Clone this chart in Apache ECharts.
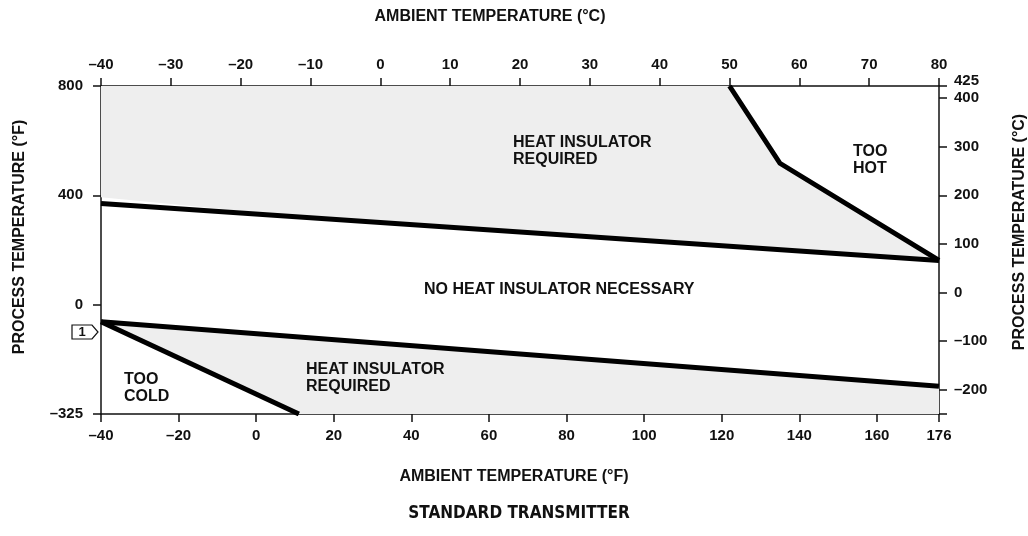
<!DOCTYPE html>
<html><head><meta charset="utf-8">
<script src="https://cdn.jsdelivr.net/npm/echarts@6/dist/echarts.min.js"></script>
<style>html,body{margin:0;padding:0;background:#fff}#c{width:1028px;height:536px}</style>
</head><body><div id="c"></div>
<script>
// ---- data (x: ambient °F, y: process °C on right axis) ----
const ambientFTicks = [-40, -20, 0, 20, 40, 60, 80, 100, 120, 140, 160, 176];
const ambientFRange = [-40, 176];
const ambientCRange = [-40, 80];
const processFLabels = ['–325', '0', '400', '800'];
const processCTicks = [-250, -200, -100, 0, 100, 200, 300, 400, 425];
const processCLabels = [-200, -100, 0, 100, 200, 300, 400, 425];
const processCRange = [-250, 425];

const heatLimitLine = [[-40, 183], [176, 66]];
const tooHotLine = [[122, 425], [135, 266], [176, 66]];
const coldLimitLine = [[-40, -60], [176, -193]];
const tooColdLine = [[-40, -60], [11, -250]];

const upperRegion = [[-40, 425], [122, 425], [135, 266], [176, 66], [20, 150], [-40, 196]];
const lowerRegion = [[-40, -60], [176, -193], [176, -250], [11, -250]];
const regions = [upperRegion, lowerRegion];

const FONT = "'Liberation Sans', Arial, Helvetica, sans-serif";
const INK = '#111';
const dash = v => String(v).replace('-', '–');

const chart = echarts.init(document.getElementById('c'), null, {renderer: 'canvas'});
const axisLine = {show: true, onZero: false, lineStyle: {color: INK, width: 1.5}};
const tick = {show: true, inside: false, length: 8, lineStyle: {color: INK, width: 1.5}};
const lbl = {color: INK, fontFamily: FONT, fontWeight: 'bold', fontSize: 15};

function lineSeries(data) {
  return {
    type: 'line', data: data, xAxisIndex: 0, yAxisIndex: 1,
    symbol: 'none', silent: true, z: 5,
    lineStyle: {color: '#000', width: 5, join: 'miter', cap: 'butt'},
    animation: false
  };
}

function txt(text, x, y, opts) {
  return Object.assign({
    type: 'text', x: x, y: y, silent: true, z: 100,
    style: Object.assign({
      text: text, font: 'bold 16px ' + FONT, fill: INK,
      align: 'left', verticalAlign: 'top', lineHeight: 17
    }, (opts && opts.style) || {})
  }, (opts && opts.el) || {});
}

chart.setOption({
  animation: false,
  grid: {left: 101, right: 89, top: 86, bottom: 122, containLabel: false},
  xAxis: [
    {type: 'value', position: 'bottom', min: ambientFRange[0], max: ambientFRange[1],
     axisLine: axisLine, splitLine: {show: false},
     axisTick: Object.assign({}, tick, {customValues: ambientFTicks}),
     axisLabel: Object.assign({}, lbl, {customValues: ambientFTicks, margin: 14, formatter: dash})},
    {type: 'value', position: 'top', min: ambientCRange[0], max: ambientCRange[1], interval: 10,
     axisLine: axisLine, splitLine: {show: false},
     axisTick: tick,
     axisLabel: Object.assign({}, lbl, {margin: 14, formatter: dash})}
  ],
  yAxis: [
    {type: 'category', position: 'left', data: processFLabels, boundaryGap: false,
     axisLine: axisLine, splitLine: {show: false},
     axisTick: Object.assign({}, tick, {interval: 0}),
     axisLabel: Object.assign({}, lbl, {margin: 18, interval: 0})},
    {type: 'value', position: 'right', min: processCRange[0], max: processCRange[1],
     axisLine: axisLine, splitLine: {show: false},
     axisTick: Object.assign({}, tick, {customValues: processCTicks}),
     axisLabel: Object.assign({}, lbl, {
       customValues: processCLabels, margin: 15,
       formatter: v => v === 425 ? '{up|425}' : dash(v),
       rich: {up: {fontFamily: FONT, fontWeight: 'bold', fontSize: 15, color: INK, padding: [0, 0, 10, 0]}}
     })}
  ],
  series: [
    {type: 'custom', xAxisIndex: 0, yAxisIndex: 1, silent: true, z: 1,
     data: regions.map((r, i) => i),
     renderItem: (params, api) => ({
       type: 'polygon',
       shape: {points: regions[params.dataIndex].map(p => api.coord(p))},
       style: {fill: '#eeeeee', stroke: null}
     })},
    lineSeries(heatLimitLine),
    lineSeries(tooHotLine),
    lineSeries(coldLimitLine),
    lineSeries(tooColdLine)
  ],
  graphic: [
    txt('AMBIENT TEMPERATURE (°C)', 490, 17, {style: {align: 'center', verticalAlign: 'middle'}}),
    txt('AMBIENT TEMPERATURE (°F)', 514, 477, {style: {align: 'center', verticalAlign: 'middle'}}),
    txt('STANDARD TRANSMITTER', 519, 514, {style: {align: 'center', verticalAlign: 'middle', font: "bold 17px 'Liberation Sans Narrow', 'DejaVu Sans Condensed', " + FONT}}),
    txt('PROCESS TEMPERATURE (°F)', 20, 237, {style: {align: 'center', verticalAlign: 'middle'}, el: {rotation: Math.PI / 2}}),
    txt('PROCESS TEMPERATURE (°C)', 1020, 232, {style: {align: 'center', verticalAlign: 'middle'}, el: {rotation: Math.PI / 2}}),
    txt('HEAT INSULATOR\nREQUIRED', 513, 134),
    txt('TOO\nHOT', 853, 143),
    txt('NO HEAT INSULATOR NECESSARY', 424, 281),
    txt('HEAT INSULATOR\nREQUIRED', 306, 361),
    txt('TOO\nCOLD', 124, 371),
    {type: 'polygon', silent: true, z: 100, shape: {points: [[72, 325], [92, 325], [98, 332], [92, 339], [72, 339]]},
     style: {fill: '#fff', stroke: INK, lineWidth: 1.2}},
    txt('1', 82, 332, {style: {align: 'center', verticalAlign: 'middle', font: 'bold 13px ' + FONT}})
  ]
});
</script>
</body></html>
